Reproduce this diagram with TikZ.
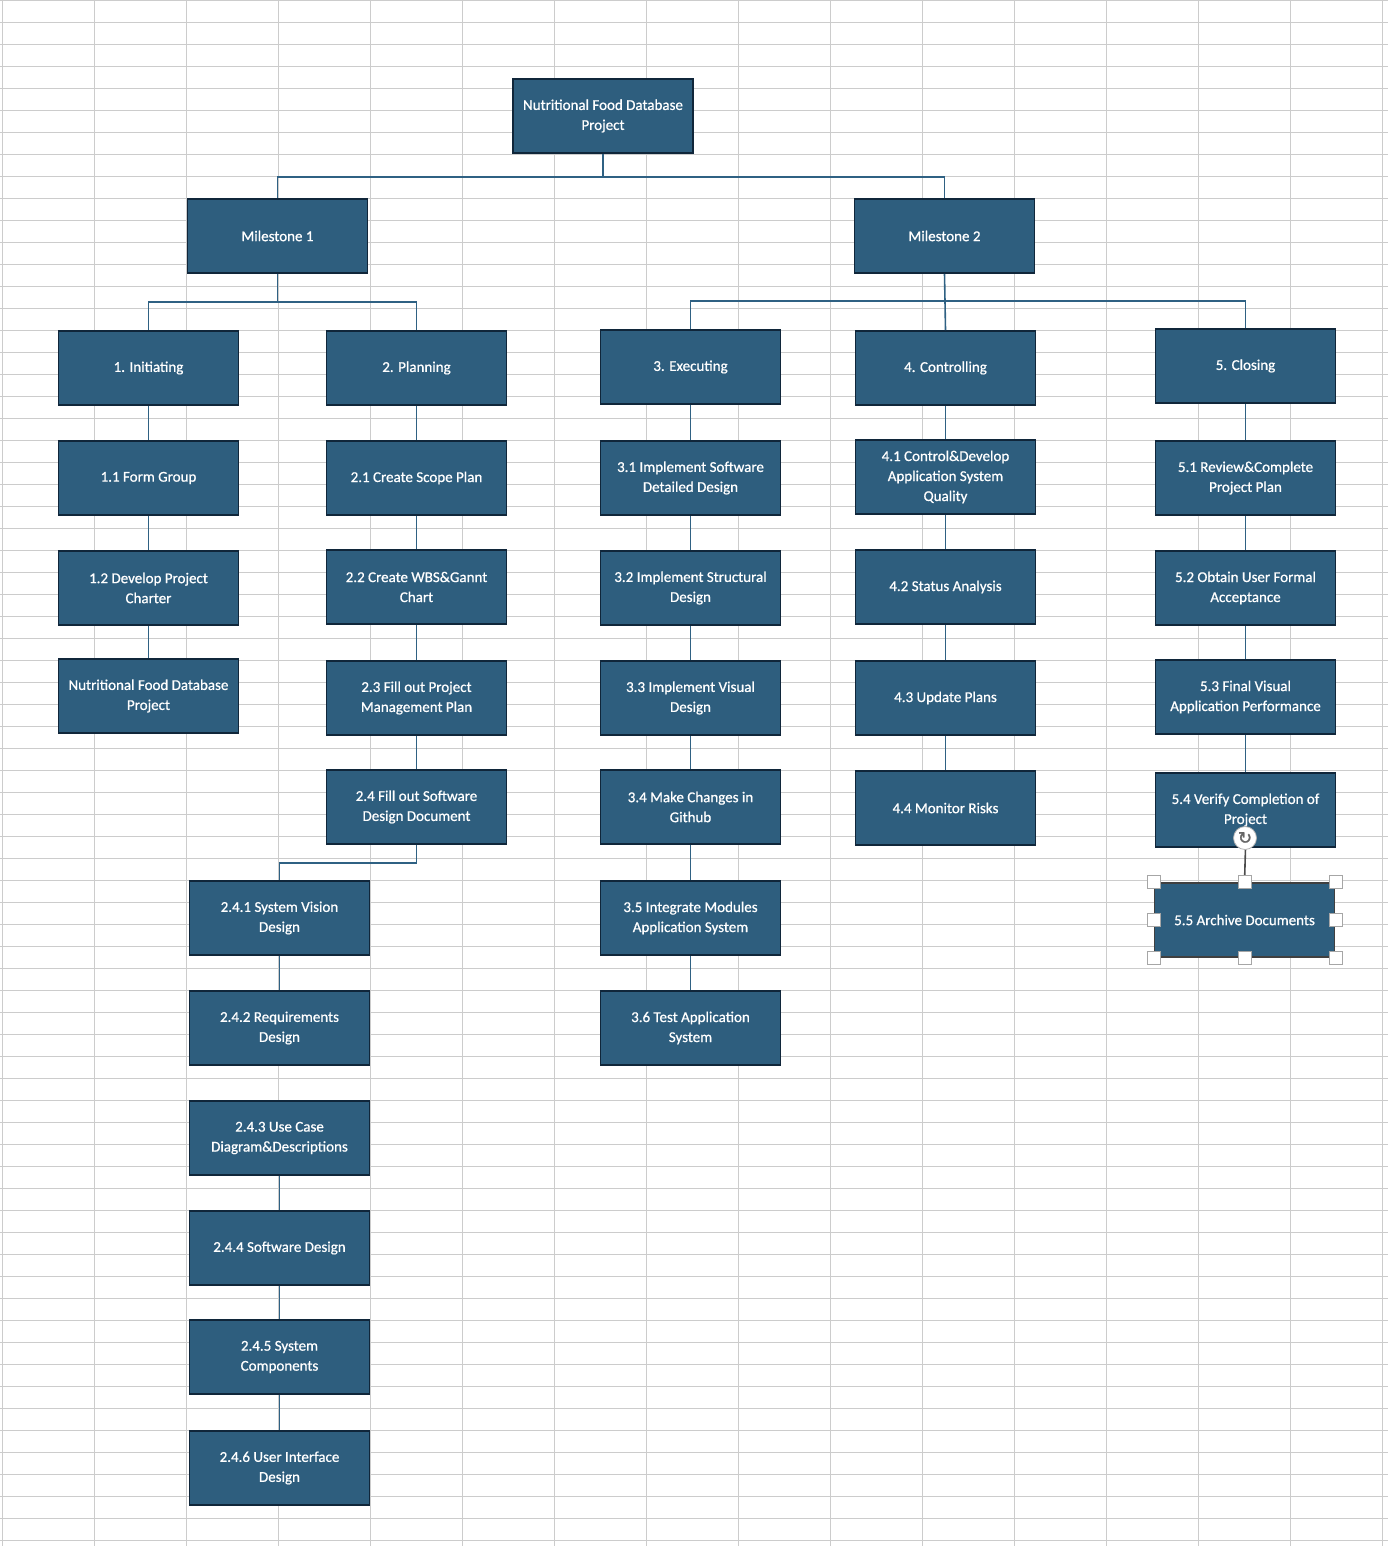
\documentclass[tikz,border=0pt]{standalone}
\usepackage{fontspec}
\setmainfont{Carlito}
\newfontfamily\boxfont{Carlito}[FakeBold=0.7]
\newfontfamily\symfont{DejaVu Sans}[FakeBold=1.5]
\definecolor{boxfill}{HTML}{2E5E7E}
\definecolor{boxline}{HTML}{10263A}
\definecolor{linkblue}{HTML}{2F6183}
\definecolor{cellline}{HTML}{CCCCCC}
\begin{document}
\begin{tikzpicture}[x=1pt,y=-1pt,
    wbs/.style={draw=boxline,line width=1.8pt,fill=boxfill,text=white,minimum width=180pt,minimum height=74pt,inner sep=0pt,align=center,font=\boxfont\fontsize{15}{20}\selectfont},
    link/.style={draw=linkblue,line width=1.6pt},
    cell/.style={draw=cellline,line width=1.5pt},
    grip/.style={draw=gray!70,fill=white,line width=0.8pt,minimum size=13pt,inner sep=0pt}]
    \useasboundingbox (0,0) rectangle (1388,1546);
    \foreach \x in {0,...,15} {
      \draw[cell] (2.7+92*\x,0) -- (2.7+92*\x,1546);
    }
    \foreach \y in {0,...,70} {
      \draw[cell] (0,0.7+22*\y) -- (1388,0.7+22*\y);
    }
    \node[wbs] (root) at (603,116) {Nutritional Food Database\\Project};
    \node[wbs] (mA) at (277.5,236) {Milestone 1};
    \node[wbs] (mB) at (944.5,236) {Milestone 2};
    \node[wbs] (w1) at (148.5,368) {1. Initiating};
    \node[wbs] (w2) at (416.5,368) {2. Planning};
    \node[wbs] (w3) at (690.5,367) {3. Executing};
    \node[wbs] (w4) at (945.5,368) {4. Controlling};
    \node[wbs] (w5) at (1245.5,366) {5. Closing};
    \foreach \n/\y/\t in {w11/478/{1.1 Form Group}, w12/588/{1.2 Develop Project\\Charter}, w13/696/{Nutritional Food Database\\Project}} {
      \node[wbs] (\n) at (148.5,\y) {\t};
    }
    \foreach \n/\y/\t in {w21/478/{2.1 Create Scope Plan}, w22/587/{2.2 Create WBS\&Gannt\\Chart}, w23/698/{2.3 Fill out Project\\Management Plan}, w24/807/{2.4 Fill out Software\\Design Document}} {
      \node[wbs] (\n) at (416.5,\y) {\t};
    }
    \foreach \n/\y/\t in {w241/918/{2.4.1 System Vision\\Design}, w242/1028/{2.4.2 Requirements\\Design}, w243/1138/{2.4.3 Use Case\\Diagram\&Descriptions}, w244/1248/{2.4.4 Software Design}, w245/1357/{2.4.5 System\\Components}, w246/1468/{2.4.6 User Interface\\Design}} {
      \node[wbs] (\n) at (279.5,\y) {\t};
    }
    \foreach \n/\y/\t in {w31/478/{3.1 Implement Software\\Detailed Design}, w32/588/{3.2 Implement Structural\\Design}, w33/698/{3.3 Implement Visual\\Design}, w34/807/{3.4 Make Changes in\\Github}, w35/918/{3.5 Integrate Modules\\Application System}, w36/1028/{3.6 Test Application\\System}} {
      \node[wbs] (\n) at (690.5,\y) {\t};
    }
    \foreach \n/\y/\t in {w41/477/{4.1 Control\&Develop\\Application System\\Quality}, w42/587/{4.2 Status Analysis}, w43/698/{4.3 Update Plans}, w44/808/{4.4 Monitor Risks}} {
      \node[wbs] (\n) at (945.5,\y) {\t};
    }
    \foreach \n/\y/\t in {w51/478/{5.1 Review\&Complete\\Project Plan}, w52/588/{5.2 Obtain User Formal\\Acceptance}, w53/697/{5.3 Final Visual\\Application Performance}, w54/810/{5.4 Verify Completion of\\Project}} {
      \node[wbs] (\n) at (1245.5,\y) {\t};
    }
    \node[wbs,draw=black!75] (w55) at (1244.5,920) {5.5 Archive Documents};
    \draw[link] (root.south) -- ++(0,23) -| (mA.north);
    \draw[link] (root.south) -- ++(0,23) -| (mB.north);
    \draw[link] (mA.south) -- ++(0,28) -| (w1.north);
    \draw[link] (mA.south) -- ++(0,28) -| (w2.north);
    \draw[link] (mB.south) -- ++(0,27) -| (w3.north);
    \draw[link] (mB.south) -- ++(0,27) -| (w5.north);
    \draw[link] (mB.south) -- (w4.north);
    \foreach \a/\b in {w1/w11, w11/w12, w12/w13, w2/w21, w21/w22, w22/w23, w23/w24, w241/w242, w243/w244, w244/w245, w245/w246, w3/w31, w31/w32, w32/w33, w33/w34, w34/w35, w35/w36, w4/w41, w41/w42, w42/w43, w43/w44, w5/w51, w51/w52, w52/w53, w53/w54} {
      \draw[link] (\a.south) -- (\b.north);
    }
    \draw[link] (w24.south) -- ++(0,18) -| (w241.north);
    \draw[black!70,line width=1.6pt] (w54.south) -- (w55.north);
    \foreach \a/\n in {north west/1, north/2, north east/3, west/4, east/5, south west/6, south/7, south east/8} {
      \node[grip] (g\n) at (w55.\a) {};
    }
    \node[circle,draw=gray!60,fill=white,line width=0.8pt,minimum size=23pt,inner sep=0pt,text=black!60,font=\symfont\fontsize{17}{17}\selectfont] (rot) at (1245,838) {↻};
\end{tikzpicture}
\end{document}
